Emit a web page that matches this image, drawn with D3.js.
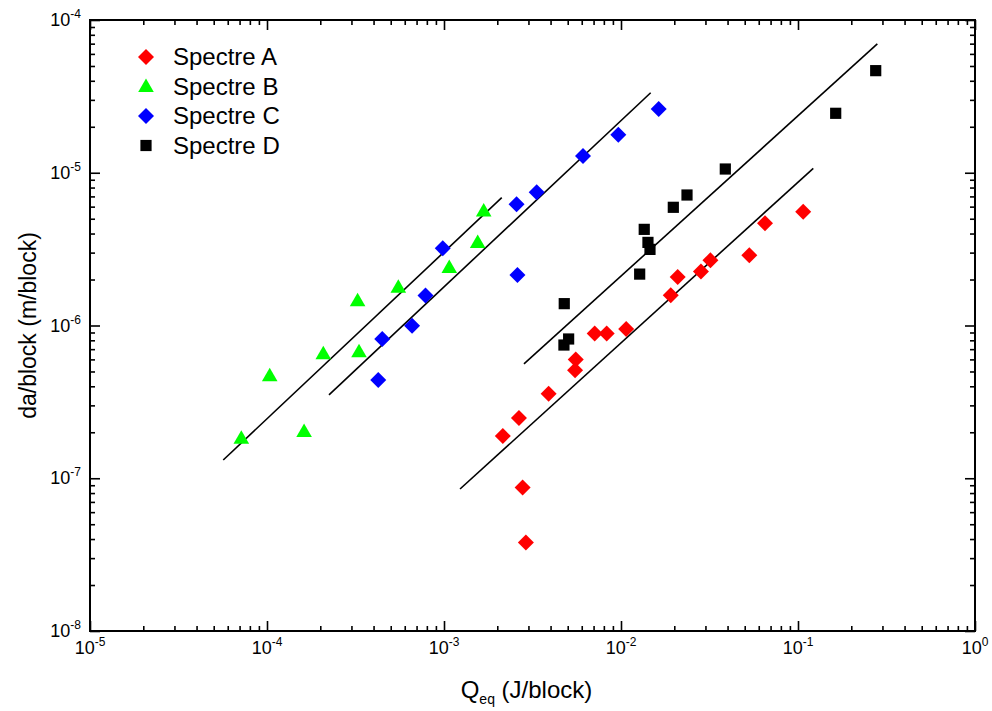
<!DOCTYPE html>
<html><head><meta charset="utf-8">
<script src="https://cdn.jsdelivr.net/npm/d3@7/dist/d3.min.js"></script>
<style>body{margin:0;background:#fff} text{font-family:"Liberation Sans",Arial,Helvetica,sans-serif;fill:#000}</style>
</head><body><svg id="c" width="992" height="711"></svg>
<script>
// ---- data ----
const seriesNames = ["Spectre A", "Spectre B", "Spectre C", "Spectre D"];
const seriesColors = ["#ff0000", "#00ff00", "#0000ff", "#000000"];
const seriesShapes = ["diamond", "triangle", "diamond", "square"];

const qA  = [2.15e-3, 2.65e-3, 2.78e-3, 2.90e-3, 3.90e-3, 5.55e-3, 5.50e-3, 7.10e-3, 8.30e-3, 1.07e-2, 1.91e-2, 2.09e-2, 2.83e-2, 3.20e-2, 5.31e-2, 6.51e-2, 0.107];
const daA = [1.89e-7, 2.48e-7, 8.7e-8, 3.8e-8, 3.58e-7, 6.0e-7, 5.1e-7, 8.85e-7, 8.85e-7, 9.5e-7, 1.58e-6, 2.08e-6, 2.26e-6, 2.67e-6, 2.88e-6, 4.67e-6, 5.56e-6];

const qB  = [7.16e-5, 1.036e-4, 1.62e-4, 2.08e-4, 3.25e-4, 3.31e-4, 5.52e-4, 1.071e-3, 1.55e-3, 1.676e-3];
const daB = [1.83e-7, 4.69e-7, 2.02e-7, 6.54e-7, 1.45e-6, 6.74e-7, 1.78e-6, 2.40e-6, 3.50e-6, 5.62e-6];

const qC  = [4.25e-4, 4.48e-4, 6.60e-4, 7.86e-4, 9.84e-4, 2.57e-3, 2.60e-3, 3.34e-3, 6.10e-3, 9.66e-3, 1.633e-2];
const daC = [4.40e-7, 8.16e-7, 9.97e-7, 1.57e-6, 3.20e-6, 6.22e-6, 2.14e-6, 7.45e-6, 1.287e-5, 1.775e-5, 2.615e-5];

const qD  = [4.78e-3, 4.76e-3, 5.06e-3, 1.275e-2, 1.353e-2, 1.42e-2, 1.458e-2, 1.975e-2, 2.36e-2, 3.884e-2, 0.1633, 0.2748];
const daD = [1.39e-6, 7.45e-7, 8.16e-7, 2.17e-6, 4.26e-6, 3.50e-6, 3.15e-6, 5.94e-6, 7.15e-6, 1.058e-5, 2.45e-5, 4.66e-5];

// fitted power-law lines: [start, end]
const fitAq = [1.232e-3, 0.122],  fitAda = [8.50e-8, 1.069e-5];
const fitBq = [5.66e-5, 2.12e-3], fitBda = [1.317e-7, 6.87e-6];
const fitCq = [2.24e-4, 1.471e-2], fitCda = [3.51e-7, 3.34e-5];
const fitDq = [2.83e-3, 0.2806],  fitDda = [5.60e-7, 6.97e-5];

const xTickExp = [-5, -4, -3, -2, -1, 0];
const yTickExp = [-8, -7, -6, -5, -4];

// ---- layout ----
const L = 90, R = 975, T = 20, B = 631;
const svg = d3.select("#c");
const x = d3.scaleLog().domain([1e-5, 1]).range([L, R]);
const y = d3.scaleLog().domain([1e-8, 1e-4]).range([B, T]);

const majorX = xTickExp.map(e => Math.pow(10, e));
const minorX = [];
for (let e = -5; e < 0; e++) for (let k = 2; k <= 9; k++) minorX.push(k * Math.pow(10, e));
const majorY = yTickExp.map(e => Math.pow(10, e));
const minorY = [];
for (let e = -8; e < -4; e++) for (let k = 2; k <= 9; k++) minorY.push(k * Math.pow(10, e));

function styleAxis(g) {
  g.select(".domain").remove();
  g.selectAll("line").attr("stroke", "#000").attr("stroke-width", 1.6);
  g.selectAll("text").remove();
}
const axes = svg.append("g");
// bottom
axes.append("g").attr("transform", `translate(0,${B})`).call(d3.axisBottom(x).tickValues(majorX).tickSize(-10)).call(styleAxis);
axes.append("g").attr("transform", `translate(0,${B})`).call(d3.axisBottom(x).tickValues(minorX).tickSize(-5)).call(styleAxis);
// top
axes.append("g").attr("transform", `translate(0,${T})`).call(d3.axisTop(x).tickValues(majorX).tickSize(-10)).call(styleAxis);
axes.append("g").attr("transform", `translate(0,${T})`).call(d3.axisTop(x).tickValues(minorX).tickSize(-5)).call(styleAxis);
// left
axes.append("g").attr("transform", `translate(${L},0)`).call(d3.axisLeft(y).tickValues(majorY).tickSize(-10)).call(styleAxis);
axes.append("g").attr("transform", `translate(${L},0)`).call(d3.axisLeft(y).tickValues(minorY).tickSize(-5)).call(styleAxis);
// right
axes.append("g").attr("transform", `translate(${R},0)`).call(d3.axisRight(y).tickValues(majorY).tickSize(-10)).call(styleAxis);
axes.append("g").attr("transform", `translate(${R},0)`).call(d3.axisRight(y).tickValues(minorY).tickSize(-5)).call(styleAxis);

svg.append("rect").attr("x", L).attr("y", T).attr("width", R - L).attr("height", B - T)
  .attr("fill", "none").attr("stroke", "#000").attr("stroke-width", 2);

// tick labels
const xl = svg.append("g").selectAll("text").data(xTickExp).join("text")
  .attr("x", d => x(Math.pow(10, d))).attr("y", B + 23).attr("text-anchor", "middle").attr("font-size", 18);
xl.append("tspan").text("10");
xl.append("tspan").attr("dy", -8).attr("font-size", 12).text(d => d === 0 ? "0" : "-" + Math.abs(d));

const yl = svg.append("g").selectAll("text").data(yTickExp).join("text")
  .attr("x", 81).attr("y", d => y(Math.pow(10, d)) + 6).attr("text-anchor", "end").attr("font-size", 18);
yl.append("tspan").text("10");
yl.append("tspan").attr("dy", -8).attr("font-size", 12).text(d => "-" + Math.abs(d));

// axis titles
const xt = svg.append("text").attr("x", (L + R) / 2 - 6).attr("y", 698).attr("text-anchor", "middle").attr("font-size", 24);
xt.append("tspan").text("Q");
xt.append("tspan").attr("dy", 6).attr("font-size", 14).text("eq");
xt.append("tspan").attr("dy", -6).text(" (J/block)");

svg.append("text").attr("transform", `translate(36,${(T + B) / 2}) rotate(-90)`)
  .attr("text-anchor", "middle").attr("font-size", 23).text("da/block (m/block)");

// fit lines
const line = d3.line().x(d => x(d[0])).y(d => y(d[1]));
const fits = [[fitAq, fitAda], [fitBq, fitBda], [fitCq, fitCda], [fitDq, fitDda]];
svg.append("g").selectAll("path").data(fits).join("path")
  .attr("d", f => line(f[0].map((q, i) => [q, f[1][i]])))
  .attr("fill", "none").attr("stroke", "#000").attr("stroke-width", 1.6);

// markers
function shapePath(s) {
  if (s === "diamond") return "M0,-8L8,0L0,8L-8,0Z";
  if (s === "square") return "M-5.6,-5.6H5.6V5.6H-5.6Z";
  return "M0,-8L7.8,5.5H-7.8Z";
}
const series = [[qA, daA], [qB, daB], [qC, daC], [qD, daD]];
series.forEach((s, i) => {
  const pts = s[0].map((q, j) => [q, s[1][j]]);
  svg.append("g").selectAll("path").data(pts).join("path")
    .attr("transform", d => `translate(${x(d[0])},${y(d[1])})`)
    .attr("d", shapePath(seriesShapes[i])).attr("fill", seriesColors[i]);
});

// legend
const lg = svg.append("g").selectAll("g").data(seriesNames).join("g")
  .attr("transform", (d, i) => `translate(146,${57 + i * 29.5})`);
lg.append("path").attr("d", (d, i) => shapePath(seriesShapes[i])).attr("fill", (d, i) => seriesColors[i]);
lg.append("text").attr("x", 27).attr("y", 8).attr("font-size", 24).text(d => d);
</script></body></html>
